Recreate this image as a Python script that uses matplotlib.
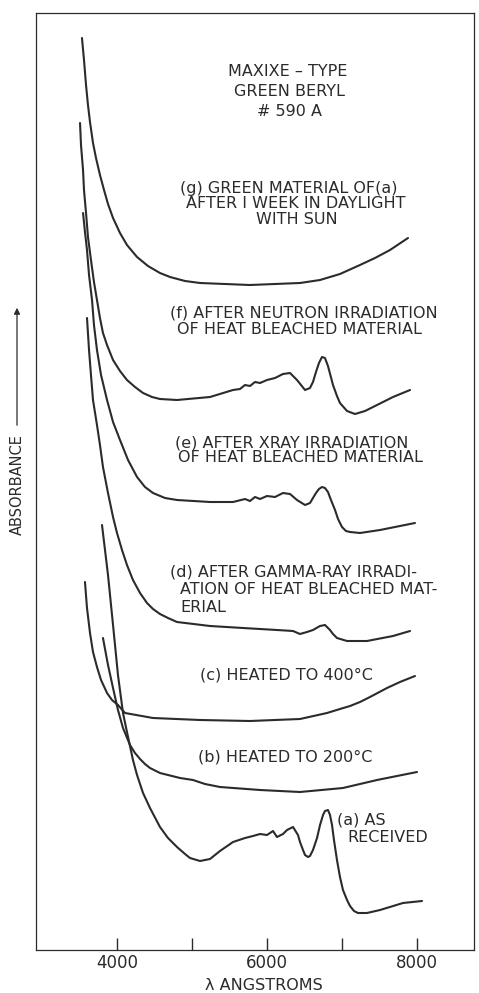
import matplotlib
matplotlib.use("Agg")
import matplotlib.pyplot as plt

# wavelength (angstrom) / absorbance (arbitrary, curves offset)
wl_g = [3533, 3560, 3587, 3613, 3640, 3680, 3720, 3773, 3827, 3880, 3947, 4040, 4133, 4267, 4413, 4573,
        4707, 4907, 5107, 5773, 6440, 6707, 6973, 7240, 7440, 7640, 7880]
ab_g = [912, 890, 865, 845, 828, 807, 792, 775, 760, 746, 732, 717, 705, 693, 684, 677,
        673, 669, 667, 665, 667, 670, 676, 685, 692, 700, 712]

wl_f = [3507, 3520, 3547, 3560, 3587, 3613, 3653, 3693, 3733, 3773, 3813, 3867, 3947, 4040, 4133, 4240,
        4347, 4467, 4573, 4800, 5240, 5547, 5640, 5707, 5773, 5840, 5907, 6000, 6107, 6213, 6307, 6400,
        6507, 6573, 6613, 6653, 6693, 6733, 6773, 6813, 6880, 6933, 6973, 7067, 7173, 7307, 7467, 7680,
        7907]
ab_f = [827, 805, 780, 760, 737, 713, 690, 668, 650, 632, 617, 605, 590, 579, 570, 563,
        557, 553, 551, 550, 553, 560, 561, 565, 564, 568, 567, 570, 572, 576, 577, 570,
        560, 562, 568, 578, 587, 593, 592, 584, 565, 554, 547, 539, 536, 539, 545, 553,
        560]

wl_e = [3547, 3573, 3600, 3627, 3667, 3693, 3733, 3787, 3867, 3947, 4040, 4147, 4267, 4373, 4480, 4640,
        4800, 5240, 5547, 5707, 5773, 5840, 5907, 6000, 6107, 6213, 6307, 6400, 6507, 6573, 6613, 6653,
        6693, 6733, 6773, 6813, 6853, 6907, 6947, 7000, 7053, 7107, 7240, 7507, 7973]
ab_e = [737, 718, 700, 675, 650, 625, 600, 575, 550, 528, 510, 490, 473, 463, 457, 452,
        450, 448, 448, 451, 449, 453, 451, 454, 453, 457, 456, 450, 445, 447, 452, 457,
        461, 463, 462, 458, 450, 440, 431, 423, 419, 418, 417, 420, 427]

wl_d = [3600, 3627, 3653, 3680, 3733, 3773, 3813, 3880, 3947, 4000, 4067, 4133, 4213, 4307, 4400, 4480,
        4573, 4680, 4800, 5240, 5680, 6133, 6347, 6440, 6533, 6613, 6707, 6773, 6840, 6880, 6933, 7067,
        7333, 7680, 7907]
ab_d = [632, 600, 575, 550, 525, 505, 483, 457, 433, 417, 400, 385, 370, 357, 347, 341,
        336, 332, 328, 324, 322, 320, 319, 316, 318, 320, 324, 325, 320, 316, 312, 309,
        309, 314, 319]

wl_c = [3573, 3600, 3640, 3680, 3733, 3787, 3867, 3933, 4013, 4107, 4480, 5107, 5773, 6440, 6800, 6973,
        7107, 7240, 7373, 7600, 7773, 7973]
ab_c = [368, 342, 317, 298, 283, 270, 257, 250, 245, 237, 232, 230, 229, 231, 237, 241,
        244, 248, 253, 262, 268, 274]

wl_b = [3813, 3880, 3947, 4013, 4080, 4173, 4240, 4307, 4373, 4440, 4573, 4840, 5013, 5173, 5373, 5907,
        6440, 7013, 7467, 8000]
ab_b = [312, 285, 262, 240, 222, 205, 197, 191, 186, 182, 177, 172, 170, 166, 163, 160,
        158, 162, 170, 178]

wl_a = [3800, 3880, 3947, 4013, 4080, 4133, 4213, 4267, 4347, 4440, 4573, 4680, 4800, 4907, 4973, 5107,
        5240, 5373, 5547, 5707, 5813, 5907, 6000, 6080, 6133, 6213, 6267, 6347, 6413, 6440, 6480, 6507,
        6547, 6573, 6613, 6667, 6707, 6747, 6773, 6813, 6840, 6867, 6893, 6933, 6973, 7013, 7067, 7107,
        7160, 7213, 7333, 7507, 7813, 8067]
ab_a = [425, 375, 325, 275, 237, 218, 190, 175, 157, 142, 123, 112, 103, 96, 92, 89,
        91, 99, 108, 112, 114, 116, 115, 119, 113, 116, 120, 123, 115, 108, 100, 95,
        93, 94, 100, 112, 125, 135, 139, 140, 135, 125, 110, 90, 73, 60, 50, 44,
        39, 37, 37, 40, 47, 49]

curves = [(wl_g, ab_g), (wl_f, ab_f), (wl_e, ab_e), (wl_d, ab_d),
          (wl_c, ab_c), (wl_b, ab_b), (wl_a, ab_a)]

ticks = [4000, 5000, 6000, 7000, 8000]
tick_labels = ["4000", "", "6000", "", "8000"]

ink = "#2b2b2b"
fs = 11.5

fig = plt.figure(figsize=(4.79, 9.93), dpi=100)
ax = fig.add_axes([36/479, 43/993, 438/479, 937/993])

for wl, ab in curves:
    ax.plot(wl, ab, color=ink, lw=1.5, solid_joinstyle="round", solid_capstyle="round")

ax.set_xlim(2920, 8760)
ax.set_ylim(0, 937)
ax.set_yticks([])
ax.set_xticks(ticks, tick_labels)
ax.tick_params(axis="x", direction="in", length=9, width=1, pad=3, labelsize=12, colors=ink)
for s in ax.spines.values():
    s.set_color(ink)
    s.set_linewidth(0.9)

def txt(x, y, s, ha="center"):
    ax.text(x, y, s, ha=ha, va="center", fontsize=fs, color=ink)

txt(6280, 878, "MAXIXE – TYPE")
txt(6300, 858, "GREEN BERYL")
txt(6300, 839, "# 590 A")

txt(6293, 762, "(g) GREEN MATERIAL OF(a)")
txt(6387, 746, "AFTER I WEEK IN DAYLIGHT")
txt(6400, 731, "WITH SUN")

txt(4707, 637, "(f) AFTER NEUTRON IRRADIATION", ha="left")
txt(4800, 620, "OF HEAT BLEACHED MATERIAL", ha="left")

txt(4773, 507, "(e) AFTER XRAY IRRADIATION", ha="left")
txt(4813, 492, "OF HEAT BLEACHED MATERIAL", ha="left")

txt(4707, 378, "(d) AFTER GAMMA-RAY IRRADI-", ha="left")
txt(4840, 361, "ATION OF HEAT BLEACHED MAT-", ha="left")
txt(4840, 343, "ERIAL", ha="left")

txt(5107, 275, "(c) HEATED TO 400°C", ha="left")
txt(5080, 193, "(b) HEATED TO 200°C", ha="left")

txt(6933, 130, "(a) AS", ha="left")
txt(7067, 113, "RECEIVED", ha="left")

fig.text(264/479, 1 - 985/993, "λ ANGSTROMS", ha="center", va="center", fontsize=11.5, color=ink)
fig.text(17/479, 1 - 485/993, "ABSORBANCE", rotation=90, ha="center", va="center", fontsize=10.5, color=ink)
ax.annotate("", xy=(17, 993 - 305), xytext=(17, 993 - 428),
            xycoords="figure pixels", textcoords="figure pixels",
            arrowprops=dict(arrowstyle="-|>", color=ink, lw=0.9, mutation_scale=9))

fig.savefig("out.png", dpi=100, facecolor="white")
